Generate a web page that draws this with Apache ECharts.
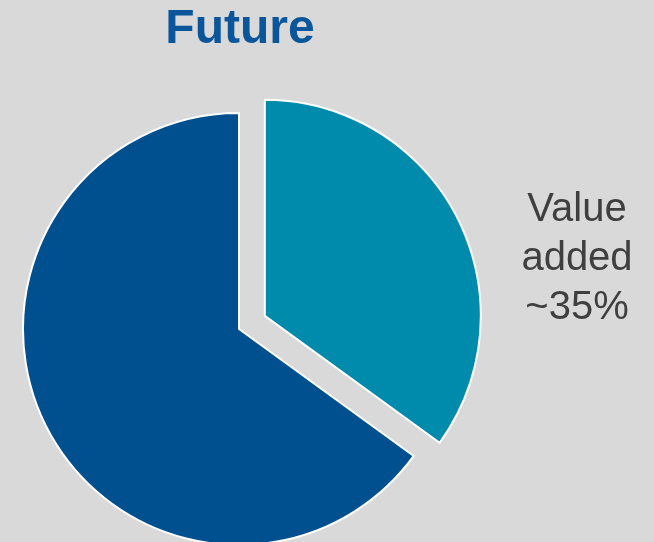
<!DOCTYPE html>
<html>
<head>
<meta charset="utf-8">
<script src="https://cdn.jsdelivr.net/npm/echarts@6/dist/echarts.min.js"></script>
<style>
  html, body { margin: 0; padding: 0; background: #D9D9D9; }
  #chart { width: 654px; height: 542px; }
</style>
</head>
<body>
<div id="chart"></div>
<script>
// Share of the future product split
const sliceNames = ['Value\nadded', 'Remaining'];
const sliceValues = [35, 65];
const sliceColors = ['#008BAD', '#00508F'];
const titleText = 'Future';

const FONT = 'Liberation Sans, Arial, sans-serif';

const chart = echarts.init(document.getElementById('chart'), null, { renderer: 'canvas' });

chart.setOption({
  backgroundColor: '#D9D9D9',
  animation: false,
  title: {
    text: titleText,
    left: 235,
    top: 1,
    textAlign: 'center',
    textStyle: {
      fontFamily: FONT,
      fontSize: 48,
      fontWeight: 'bold',
      color: '#0B559A'
    }
  },
  // Caption for the highlighted slice, built from its name and value
  graphic: [{
    type: 'text',
    x: 577,
    y: 185,
    style: {
      text: sliceNames[0] + '\n~' + sliceValues[0] + '%',
      fontFamily: FONT,
      fontSize: 40,
      lineHeight: 49,
      fill: '#3F3F3F',
      align: 'center',
      verticalAlign: 'top'
    }
  }],
  series: [{
    type: 'pie',
    center: [239, 329],
    radius: [0, 216],
    startAngle: 90,
    clockwise: true,
    selectedMode: 'single',
    selectedOffset: 29,
    itemStyle: { borderColor: '#FFFFFF', borderWidth: 2 },
    emphasis: { disabled: true },
    labelLine: { show: false },
    label: { show: false },
    data: sliceNames.map(function (name, i) {
      return {
        name: name,
        value: sliceValues[i],
        selected: i === 0,
        itemStyle: { color: sliceColors[i] }
      };
    })
  }]
});
</script>
</body>
</html>
